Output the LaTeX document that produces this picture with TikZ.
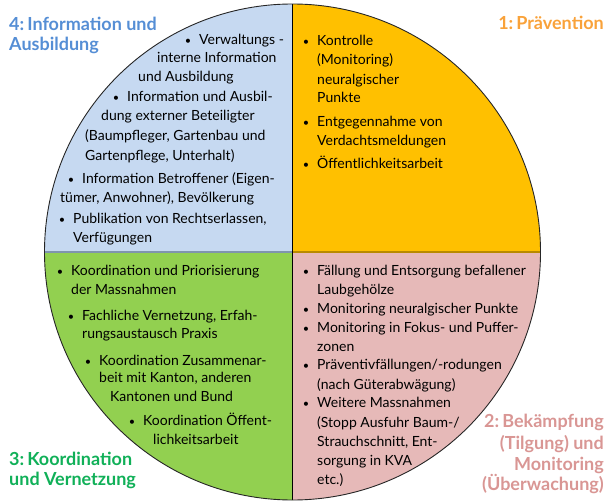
\documentclass[tikz,border=0pt]{standalone}
\usepackage{fontspec}
\setmainfont{Lato}
\definecolor{cBlue}{HTML}{C6D9F1}
\definecolor{cYel}{HTML}{FFC000}
\definecolor{cGreen}{HTML}{92D050}
\definecolor{cPink}{HTML}{E6B9B8}
\definecolor{tBlue}{HTML}{558ED5}
\definecolor{tOrange}{HTML}{F9A23A}
\definecolor{tGreen}{HTML}{10B058}
\definecolor{tPink}{HTML}{D99694}
\definecolor{lBlue}{HTML}{7F95AE}
\definecolor{lOrange}{HTML}{B88A00}
\newcommand\txtl[4]{\node[txt] (#1) at (#2,#3) {#4};}
\newcommand\bitem[4]{\node[bul] (#1b) at (#2-11,#3) {\textbullet}; \node[txt] (#1) at (#2,#3) {#4};}
\begin{document}
\begin{tikzpicture}[x=1pt,y=-1pt,
  txt/.style={anchor=mid west, inner sep=0pt, font=\fontsize{14}{16}\selectfont},
  bul/.style={anchor=mid, inner sep=0pt, font=\fontsize{11}{13}\selectfont},
  ttl/.style={anchor=mid west, inner sep=0pt, font=\fontsize{18}{21}\selectfont\bfseries},
  ttr/.style={anchor=mid east, inner sep=0pt, font=\fontsize{18}{21}\selectfont\bfseries}]
\useasboundingbox (0,0) rectangle (615,503);
\coordinate (C) at (292.5,252);
\begin{scope}
  \clip (C) circle (248);
  \fill[cBlue] (C) rectangle (30,0);
  \fill[cYel] (C) rectangle (580,0);
  \fill[cGreen] (C) rectangle (30,503);
  \fill[cPink] (C) rectangle (580,503);
\end{scope}
\draw[lBlue, line width=1.2pt] (C) -- ++(-248,0);
\draw[lOrange, line width=1.2pt] (C) -- ++(248,0);
\draw[black, line width=1.1pt] (C) ++(0,-248) -- ++(0,496);
\draw[black!85, line width=0.9pt] (C) circle (248);

% titles
\node[ttl, text=tBlue] (t4a) at (9,28) {4:\,Information und};
\node[ttl, text=tBlue] (t4b) at (9,48) {Ausbildung};
\node[ttr, text=tOrange] (t1a) at (604,27) {1:\,Prävention};
\node[ttl, text=tGreen] (t3a) at (9,463) {3:\,Koordination};
\node[ttl, text=tGreen] (t3b) at (9,483) {und Vernetzung};
\node[ttr, text=tPink] (t2a) at (604,425) {2:\,Bekämpfung};
\node[ttr, text=tPink] (t2b) at (604,447) {(Tilgung) und};
\node[ttr, text=tPink] (t2c) at (604,468) {Monitoring};
\node[ttr, text=tPink] (t2d) at (604,488) {(Überwachung)};

% quadrant 4
\bitem{a1}{199}{42}{Verwaltungs -}
\txtl{a2}{157}{60}{interne Information}
\txtl{a3}{138}{79}{und Ausbildung}
\bitem{a4}{127}{99}{Information und Ausbil-}
\txtl{a5}{101}{118}{dung externer Beteiligter}
\txtl{a6}{85}{138}{(Baumpfleger, Gartenbau und}
\txtl{a7}{85}{158}{Gartenpflege, Unterhalt)}
\bitem{a8}{82}{181}{Information Betroffener (Eigen-}
\txtl{a9}{60}{200}{tümer, Anwohner), Bevölkerung}
\bitem{a10}{73}{221}{Publikation von Rechtserlassen,}
\txtl{a11}{73}{240}{Verfügungen}

% quadrant 1
\bitem{b1}{317}{43}{Kontrolle}
\txtl{b2}{317}{62}{(Monitoring)}
\txtl{b3}{317}{82}{neuralgischer}
\txtl{b4}{317}{100}{Punkte}
\bitem{b5}{317}{124}{Entgegennahme von}
\txtl{b6}{317}{143}{Verdachtsmeldungen}
\bitem{b7}{317}{166}{Öffentlichkeitsarbeit}

% quadrant 3
\bitem{c1}{71}{273}{Koordination und Priorisierung}
\txtl{c2}{71}{292}{der Massnahmen}
\bitem{c3}{82}{318}{Fachliche Vernetzung, Erfah-}
\txtl{c4}{82}{336}{rungsaustausch Praxis}
\bitem{c5}{99}{363}{Koordination Zusammenar-}
\txtl{c6}{99}{380}{beit mit Kanton, anderen}
\txtl{c7}{110}{399}{Kantonen und Bund}
\bitem{c8}{143}{423}{Koordination Öffent-}
\txtl{c9}{153}{442}{lichkeitsarbeit}

% quadrant 2
\bitem{d1}{317}{273}{Fällung und Entsorgung befallener}
\txtl{d2}{317}{292}{Laubgehölze}
\bitem{d3}{317}{311}{Monitoring neuralgischer Punkte}
\bitem{d4}{317}{330}{Monitoring in Fokus- und Puffer-}
\txtl{d5}{317}{349}{zonen}
\bitem{d6}{317}{367}{Präventivfällungen/-rodungen}
\txtl{d7}{317}{387}{(nach Güterabwägung)}
\bitem{d8}{317}{405}{Weitere Massnahmen}
\txtl{d9}{317}{425}{(Stopp Ausfuhr Baum-/}
\txtl{d10}{317}{444}{Strauchschnitt, Ent-}
\txtl{d11}{317}{463}{sorgung in KVA}
\txtl{d12}{317}{482}{etc.)}
\end{tikzpicture}
\end{document}
